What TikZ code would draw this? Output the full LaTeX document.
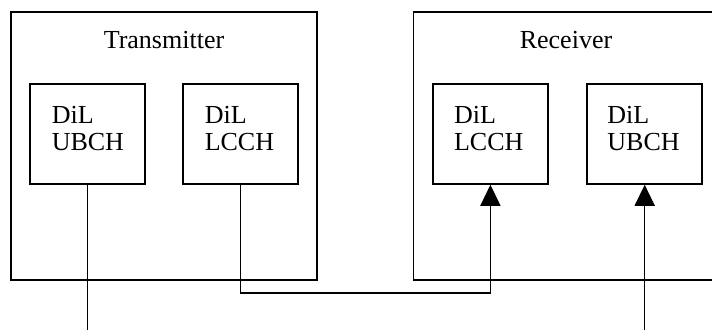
\documentclass[tikz,border=0pt]{standalone}
\usepackage{fontspec}
\setmainfont{Liberation Serif}
\usetikzlibrary{arrows.meta}
\begin{document}
\begin{tikzpicture}[x=1pt,y=-1pt,
  line width=1.5pt,
  chbox/.style={draw, rectangle, minimum width=115pt, minimum height=100pt, inner sep=0pt},
  lbl/.style={anchor=base west, inner sep=0pt, font=\fontsize{26}{27}\selectfont},
  ttl/.style={anchor=base, inner sep=0pt, font=\fontsize{26}{27}\selectfont},
  arr/.style={-{Triangle[length=21pt,width=20pt]}}]
\useasboundingbox (0,0) rectangle (712,332);
% outer boxes
\draw (11,12) rectangle (317,280);
\draw (712,12) -- (413.7,12) -- (413.7,280) -- (712,280);
\node[ttl] (tx) at (164,48) {Transmitter};
\node[ttl] (rx) at (566,48) {Receiver};
% inner boxes
\node[chbox] (tub) at (87.5,134) {};
\node[chbox] (tlc) at (240.5,134) {};
\node[chbox] (rlc) at (490.4,134) {};
\node[chbox] (rub) at (644.7,134) {};
\node[lbl] (tub1) at (51,123) {DiL};
\node[lbl] (tub2) at (51,150) {UBCH};
\node[lbl] (tlc1) at (204,123) {DiL};
\node[lbl] (tlc2) at (204,150) {LCCH};
\node[lbl] (rlc1) at (453.3,123) {DiL};
\node[lbl] (rlc2) at (453.3,150) {LCCH};
\node[lbl] (rub1) at (606.7,123) {DiL};
\node[lbl] (rub2) at (606.7,150) {UBCH};
% connectors
\coordinate (e1) at (87.5,330);
\coordinate (e2) at (644.7,330);
\draw (tub.south) -- (e1);
\draw[arr] (tlc.south) -- ++(0,108) -| (rlc.south);
\draw[arr] (e2) -- (rub.south);
\end{tikzpicture}
\end{document}
